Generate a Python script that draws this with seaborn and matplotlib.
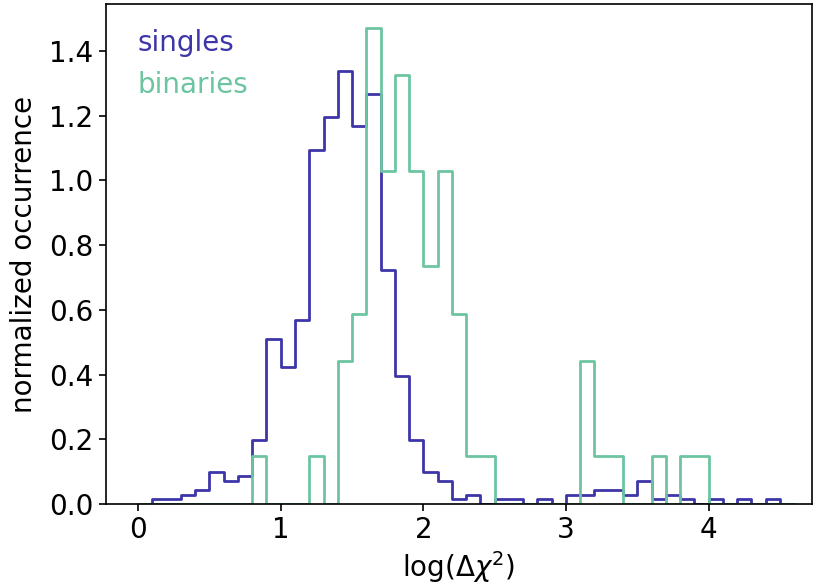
import numpy as np
import pandas as pd
import matplotlib
matplotlib.use("Agg")
import matplotlib.pyplot as plt
import seaborn as sns

# Bin layout of log(Δχ²): width 0.1 from 0.0 to 4.6
bin_start = 0.0
bin_stop = 4.6
bin_width = 0.1

# Normalized occurrence per bin (density), one value per bin from 0.0 to 4.6
singles = [
    0.0, 0.0146, 0.0146, 0.029, 0.0435, 0.100, 0.071, 0.086, 0.198, 0.511,
    0.424, 0.568, 1.095, 1.195, 1.337, 1.167, 1.266, 0.723, 0.397, 0.198,
    0.100, 0.071, 0.0146, 0.029, 0.0, 0.0146, 0.0146, 0.0, 0.0146, 0.0,
    0.029, 0.029, 0.0435, 0.0435, 0.029, 0.071, 0.0146, 0.029, 0.0146, 0.0,
    0.0146, 0.0, 0.0146, 0.0, 0.0146, 0.0,
]
binaries = [
    0.0, 0.0, 0.0, 0.0, 0.0, 0.0, 0.0, 0.0, 0.147, 0.0,
    0.0, 0.0, 0.147, 0.0, 0.441, 0.588, 1.471, 1.029, 1.324, 1.029,
    0.735, 1.029, 0.588, 0.147, 0.147, 0.0, 0.0, 0.0, 0.0, 0.0,
    0.0, 0.441, 0.147, 0.147, 0.0, 0.0, 0.147, 0.0, 0.147, 0.147,
    0.0, 0.0, 0.0, 0.0, 0.0, 0.0,
]
series_names = ["singles", "binaries"]
series_colors = ["#3d35a8", "#6cc5a0"]

n_bins = len(singles)
centers = bin_start + bin_width * (np.arange(n_bins) + 0.5)

sns.set_style("ticks")
plt.rcParams["font.family"] = ["DejaVu Sans"]
plt.rcParams["text.color"] = "black"
plt.rcParams["axes.labelcolor"] = "black"

fig = plt.figure(figsize=(8.16, 5.87), dpi=100)
ax = fig.add_axes([0.130, 0.1414, 0.865, 0.8513])

for name, vals, col in zip(series_names, [singles, binaries], series_colors):
    df = pd.DataFrame({"x": centers, "w": np.asarray(vals, dtype=float)})
    sns.histplot(data=df, x="x", weights="w", binwidth=bin_width,
                 binrange=(bin_start, bin_stop), element="step",
                 fill=False, stat="count", color=col, linewidth=2.0, ax=ax)

ax.set_xlim(-0.225, 4.725)
ax.set_ylim(0, 1.544)
ax.set_xticks([0, 1, 2, 3, 4])
yt = np.round(np.arange(0, 1.41, 0.2), 1)
ax.set_yticks(yt)
ax.set_yticklabels([f"{v:.1f}" for v in yt])

for sp in ax.spines.values():
    sp.set_color("black")
    sp.set_linewidth(1.2)
ax.tick_params(axis="both", labelsize=20, length=5, width=1.2, color="black",
               labelcolor="black", pad=4)

ax.set_xlabel(r"log($\Delta\chi^2$)", fontsize=20, labelpad=3)
ax.set_ylabel("normalized occurrence", fontsize=20, labelpad=8)

for name, col, yy in zip(series_names, series_colors, [0.906, 0.823]):
    ax.text(0.045, yy, name, color=col, fontsize=20, transform=ax.transAxes,
            ha="left", va="baseline")

fig.savefig("out.png", dpi=100)
